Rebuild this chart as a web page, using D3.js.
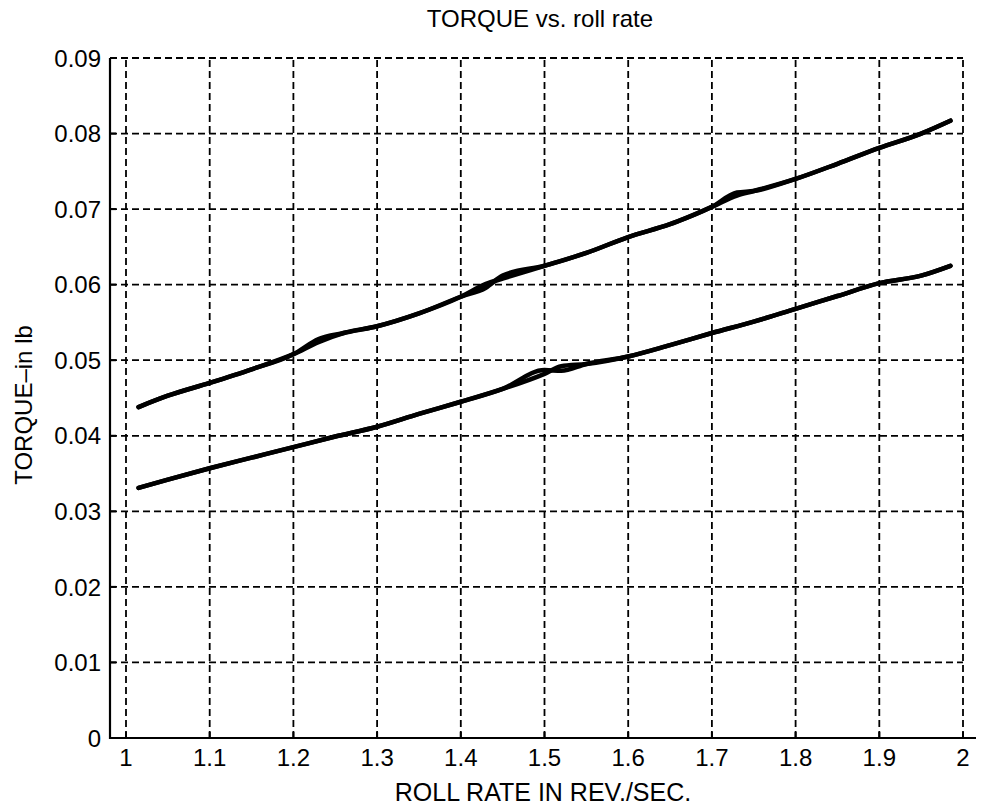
<!DOCTYPE html>
<html><head><meta charset="utf-8">
<script src="https://cdn.jsdelivr.net/npm/d3@7"></script>
<style>body{margin:0;background:#fff}svg{display:block}text{font-family:"Liberation Sans",Arial,sans-serif;fill:#000}</style>
</head><body>
<svg id="c" width="982" height="809"></svg>
<script>
const title = "TORQUE vs. roll rate";
const xLabel = "ROLL RATE IN REV./SEC.";
const yLabel = "TORQUE\u2013in lb";
const xTicks = [1,1.1,1.2,1.3,1.4,1.5,1.6,1.7,1.8,1.9,2];
const yTicks = [0,0.01,0.02,0.03,0.04,0.05,0.06,0.07,0.08,0.09];

const upperX = [1.015,1.05,1.1,1.15,1.2,1.23,1.26,1.3,1.35,1.4,1.43,1.45,1.5,1.55,1.6,1.65,1.7,1.73,1.75,1.8,1.85,1.9,1.95,1.985];
const upperA = [0.0438,0.0453,0.0470,0.0488,0.0508,0.0524,0.0536,0.0545,0.0562,0.0584,0.0601,0.0608,0.0625,0.0642,0.0663,0.0680,0.0703,0.0718,0.0724,0.0740,0.0760,0.0781,0.0800,0.0817];
const upperB = [0.0438,0.0453,0.0470,0.0488,0.0508,0.0528,0.0536,0.0545,0.0562,0.0584,0.0596,0.0612,0.0625,0.0642,0.0663,0.0680,0.0703,0.0722,0.0724,0.0740,0.0760,0.0781,0.0800,0.0817];

const lowerX = [1.015,1.05,1.1,1.15,1.2,1.25,1.3,1.35,1.4,1.45,1.5,1.52,1.55,1.6,1.65,1.7,1.75,1.8,1.85,1.9,1.95,1.985];
const lowerA = [0.0331,0.0342,0.0357,0.0371,0.0385,0.0399,0.0412,0.0429,0.0445,0.0462,0.0482,0.0492,0.0495,0.0505,0.0520,0.0536,0.0551,0.0568,0.0585,0.0602,0.0612,0.0625];
const lowerB = [0.0331,0.0342,0.0357,0.0371,0.0385,0.0399,0.0412,0.0429,0.0445,0.0462,0.0487,0.0486,0.0495,0.0505,0.0520,0.0536,0.0551,0.0568,0.0585,0.0602,0.0612,0.0625];

const svg = d3.select("#c");
const x = d3.scaleLinear().domain([1,2]).range([126,963]);
const y = d3.scaleLinear().domain([0,0.09]).range([738,58]);
const axLeft = 110, axRight = 976;

// grid
const g = svg.append("g").attr("stroke","#000").attr("stroke-width",1.8).attr("stroke-dasharray","7,4");
g.selectAll(".vx").data(xTicks).join("line")
  .attr("x1",d=>x(d)).attr("x2",d=>x(d)).attr("y1",y(0)).attr("y2",y(0.09));
g.selectAll(".hy").data(yTicks.filter(d=>d>0)).join("line")
  .attr("x1",axLeft).attr("x2",x(2)).attr("y1",d=>y(d)).attr("y2",d=>y(d));

// data
const line = d3.line().curve(d3.curveMonotoneX).x(d=>x(d[0])).y(d=>y(d[1]));
const series = [
  upperX.map((v,i)=>[v,upperA[i]]),
  upperX.map((v,i)=>[v,upperB[i]]),
  lowerX.map((v,i)=>[v,lowerA[i]]),
  lowerX.map((v,i)=>[v,lowerB[i]])
];
svg.append("g").selectAll("path").data(series).join("path")
  .attr("d",line).attr("fill","none").attr("stroke","#000")
  .attr("stroke-width",4.5).attr("stroke-linejoin","round").attr("stroke-linecap","round");

// axes lines
svg.append("line").attr("x1",axLeft).attr("x2",axLeft).attr("y1",y(0.09)).attr("y2",y(0)+1)
  .attr("stroke","#000").attr("stroke-width",2.2);
svg.append("line").attr("x1",axLeft).attr("x2",axRight).attr("y1",y(0)).attr("y2",y(0))
  .attr("stroke","#000").attr("stroke-width",2.2);

// ticks
svg.selectAll(".yt").data(yTicks).join("line")
  .attr("x1",axLeft).attr("x2",axLeft+6).attr("y1",d=>y(d)).attr("y2",d=>y(d))
  .attr("stroke","#000").attr("stroke-width",2);
svg.selectAll(".xt").data(xTicks).join("line")
  .attr("x1",d=>x(d)).attr("x2",d=>x(d)).attr("y1",y(0)).attr("y2",y(0)-6)
  .attr("stroke","#000").attr("stroke-width",2);

// tick labels
svg.selectAll(".yl").data(yTicks).join("text")
  .attr("x",101).attr("y",d=>y(d)).attr("dy","0.36em").attr("text-anchor","end")
  .attr("font-size",24).text(d=>d===0?"0":d3.format(".2f")(d));
svg.selectAll(".xl").data(xTicks).join("text")
  .attr("x",d=>x(d)).attr("y",766).attr("text-anchor","middle")
  .attr("font-size",24).text(d=>d3.format("~g")(d));

// titles
svg.append("text").attr("x",540).attr("y",27).attr("text-anchor","middle").attr("font-size",24).text(title);
svg.append("text").attr("x",543).attr("y",801).attr("text-anchor","middle").attr("font-size",25).text(xLabel);
svg.append("text").attr("transform","translate(32,405) rotate(-90)").attr("text-anchor","middle").attr("font-size",24).text(yLabel);
</script>
</body></html>
